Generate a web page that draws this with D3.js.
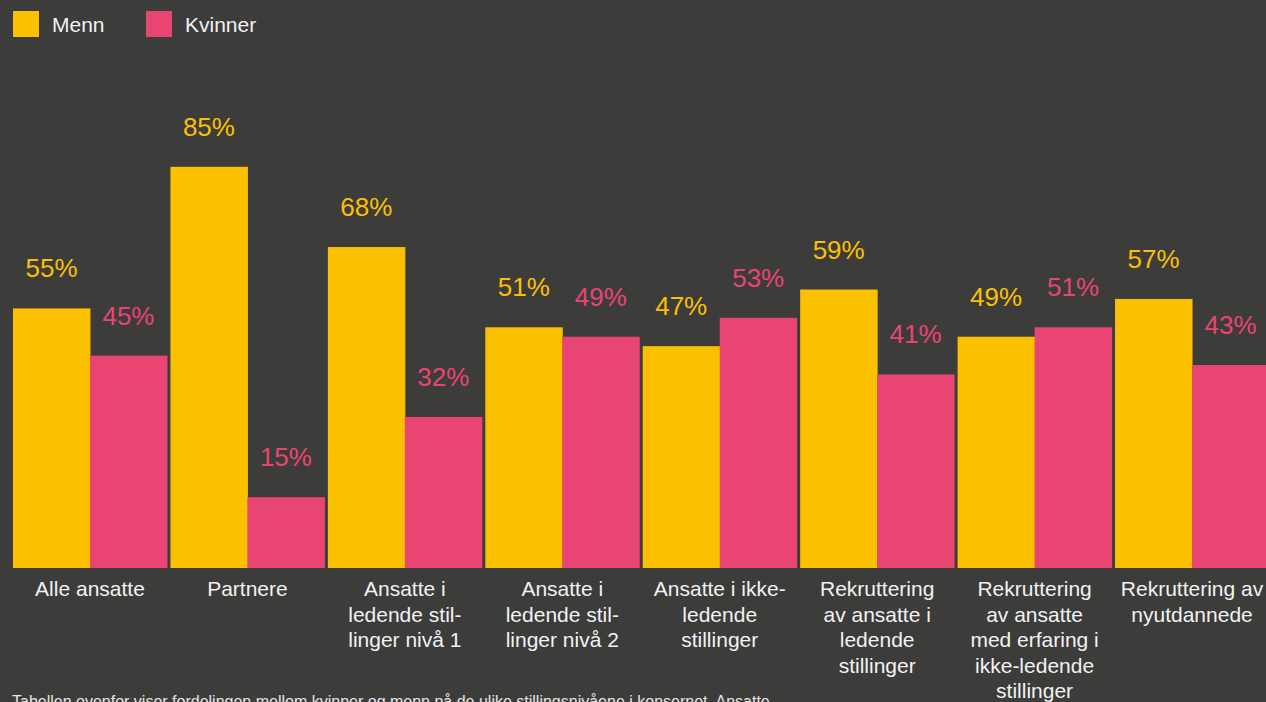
<!DOCTYPE html>
<html>
<head>
<meta charset="utf-8">
<script src="https://cdn.jsdelivr.net/npm/d3@7"></script>
<style>
  html, body { margin: 0; padding: 0; background: #3c3c3b; overflow: hidden; }
  svg { display: block; font-family: "Liberation Sans", Arial, Helvetica, sans-serif; }
</style>
</head>
<body>
<svg id="chart" width="1266" height="702"></svg>
<script>
// data
const categories = [
    ["Alle ansatte"],
    ["Partnere"],
    ["Ansatte i", "ledende stil-", "linger nivå 1"],
    ["Ansatte i", "ledende stil-", "linger nivå 2"],
    ["Ansatte i ikke-", "ledende", "stillinger"],
    ["Rekruttering", "av ansatte i", "ledende", "stillinger"],
    ["Rekruttering", "av ansatte", "med erfaring i", "ikke-ledende", "stillinger"],
    ["Rekruttering av", "nyutdannede"]
];
const menn = [55, 85, 68, 51, 47, 59, 49, 57];
const kvinner = [45, 15, 32, 49, 53, 41, 51, 43];
const seriesNames = ["Menn", "Kvinner"];
const colors = ["#fbc000", "#e84573"];
const note = "Tabellen ovenfor viser fordelingen mellom kvinner og menn på de ulike stillingsnivåene i konsernet. Ansatte";

const svg = d3.select('#chart');

const baseY = 568;

let xScale = d3.scaleBand()
    .domain(d3.range(categories.length))
    .range([13, 1269])
    .paddingInner(0.022)
    .paddingOuter(0);

let subScale = d3.scaleBand()
    .domain([0, 1])
    .range([0, xScale.bandwidth()]);

let yScale = d3.scaleLinear()
    .domain([0, 100])
    .range([baseY, baseY - 472]);

const rows = categories.map((c, i) => ({ i, vals: [menn[i], kvinner[i]] }));

const groups = svg.append('g')
    .selectAll('g')
    .data(rows)
    .enter()
    .append('g')
    .attr('transform', d => `translate(${xScale(d.i)},0)`);

groups.selectAll('rect')
    .data(d => d.vals.map((v, s) => ({ v, s })))
    .enter()
    .append('rect')
    .attr('x', d => subScale(d.s))
    .attr('y', d => yScale(d.v))
    .attr('width', subScale.bandwidth() + 0.5)
    .attr('height', d => baseY - yScale(d.v))
    .attr('fill', d => colors[d.s]);

groups.selectAll('text.val')
    .data(d => d.vals.map((v, s) => ({ v, s })))
    .enter()
    .append('text')
    .classed('val', true)
    .attr('text-anchor', 'middle')
    .attr('x', d => subScale(d.s) + subScale.bandwidth() / 2)
    .attr('y', d => yScale(d.v) - 31)
    .attr('fill', d => colors[d.s])
    .style('font-size', '26px')
    .text(d => d.v + '%');

// category labels (x axis)
let xAxis = d3.axisBottom(xScale).tickSize(0).tickFormat('');
const axisG = svg.append('g')
    .attr('transform', `translate(0,${baseY})`)
    .call(xAxis);
axisG.select('.domain').remove();
axisG.selectAll('.tick').each(function (d) {
    const t = d3.select(this).append('text')
        .attr('text-anchor', 'middle')
        .attr('fill', '#f2f2f2')
        .style('font-size', '21px')
        .attr('x', 0)
        .attr('y', 28);
    categories[d].forEach((line, k) => {
        t.append('tspan').attr('x', 0).attr('dy', k === 0 ? 0 : 25.5).text(line);
    });
});

// legend
const legend = svg.append('g')
    .selectAll('g')
    .data(seriesNames)
    .enter()
    .append('g')
    .attr('transform', (d, i) => `translate(${13 + i * 133},11)`);
legend.append('rect')
    .attr('width', 26)
    .attr('height', 26)
    .attr('fill', (d, i) => colors[i]);
legend.append('text')
    .attr('x', 39)
    .attr('y', 20.5)
    .attr('fill', '#f2f2f2')
    .style('font-size', '21px')
    .text(d => d);

// note at the bottom (cut by the frame, as in the original)
svg.append('text')
    .attr('x', 12)
    .attr('y', 707)
    .attr('fill', '#e6e6e6')
    .style('font-size', '16px')
    .text(note);
</script>
</body>
</html>
